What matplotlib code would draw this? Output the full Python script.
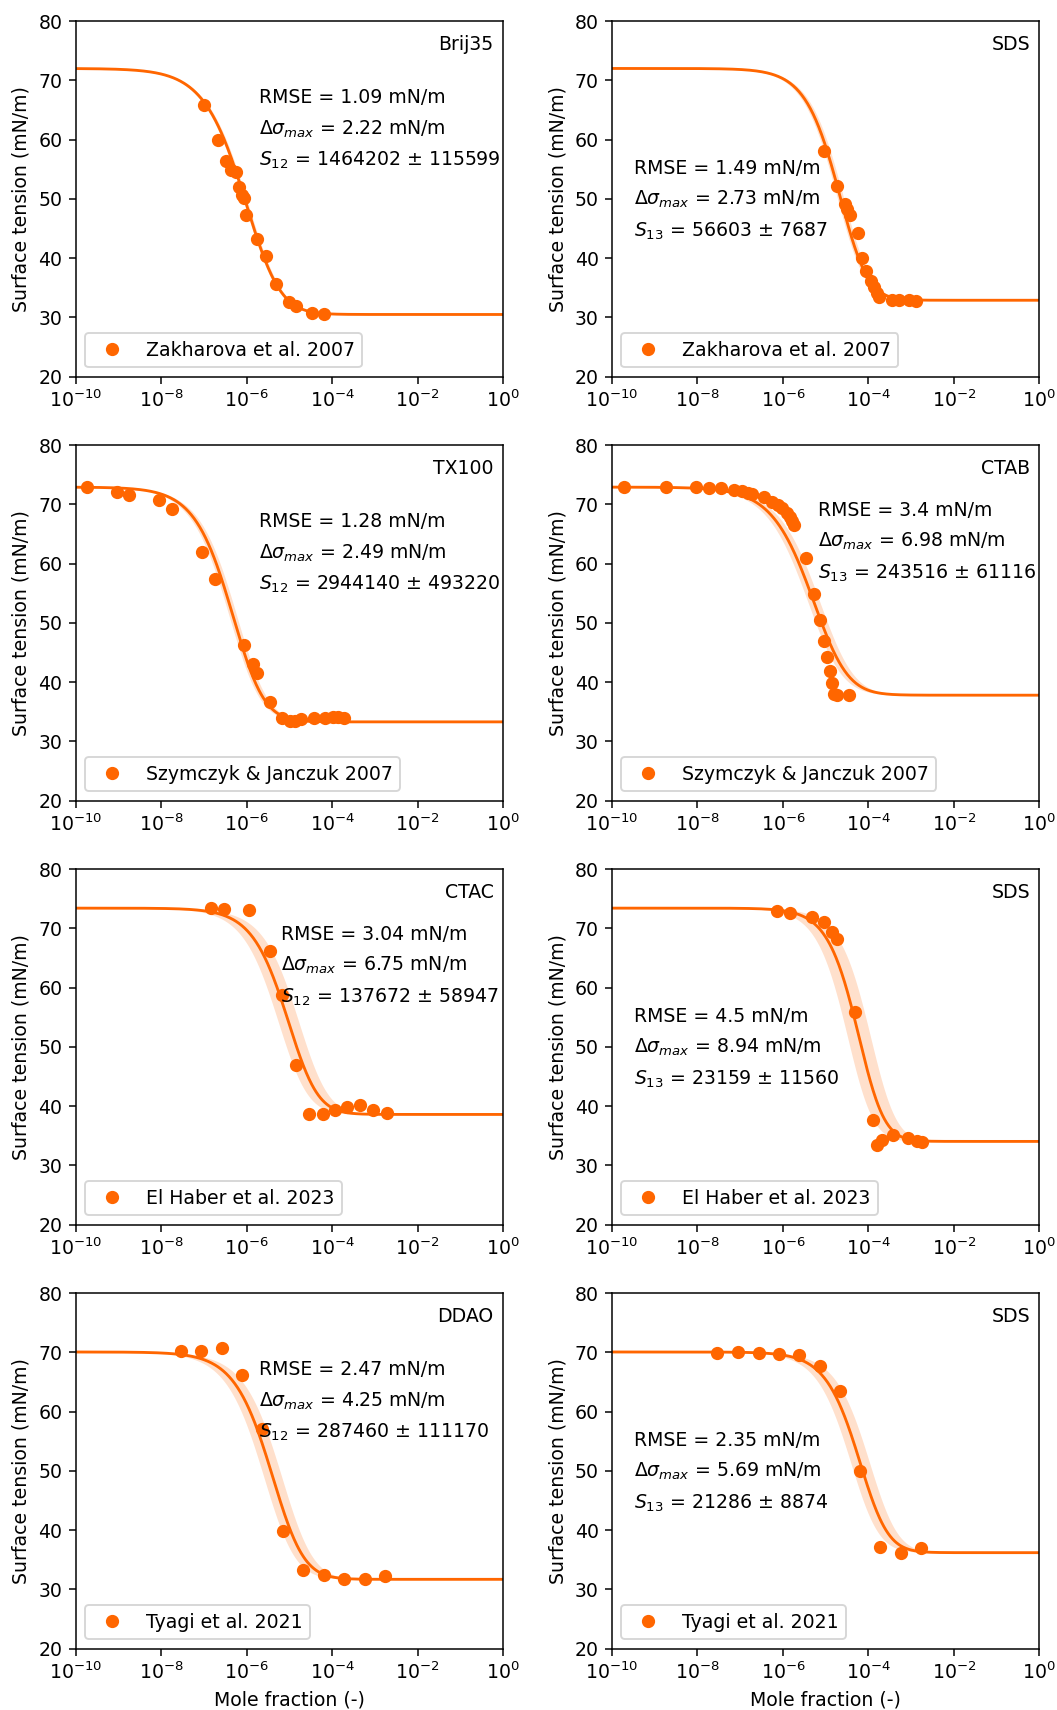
import numpy as np
import matplotlib.pyplot as plt
from matplotlib.ticker import NullLocator

# Surfactants, data sources and fit statistics
surfactants = ["Brij35", "SDS", "TX100", "CTAB", "CTAC", "SDS", "DDAO", "SDS"]
sources = ["Zakharova et al. 2007", "Zakharova et al. 2007",
           "Szymczyk & Janczuk 2007", "Szymczyk & Janczuk 2007",
           "El Haber et al. 2023", "El Haber et al. 2023",
           "Tyagi et al. 2021", "Tyagi et al. 2021"]
rmse = ["1.09", "1.49", "1.28", "3.4", "3.04", "4.5", "2.47", "2.35"]
dsigma_max = ["2.22", "2.73", "2.49", "6.98", "6.75", "8.94", "4.25", "5.69"]
s_index = ["12", "13", "12", "13", "12", "13", "12", "13"]
s_value = ["1464202", "56603", "2944140", "243516", "137672", "23159", "287460", "21286"]
s_error = ["115599", "7687", "493220", "61116", "58947", "11560", "111170", "8874"]

# Measured surface tension (mN/m) vs mole fraction
x_brij35 = [1.02e-7, 2.09e-7, 3.24e-7, 4.37e-7, 5.62e-7, 6.61e-7, 7.76e-7, 8.91e-7,
            9.55e-7, 1.78e-6, 2.82e-6, 4.90e-6, 9.77e-6, 1.45e-5, 3.39e-5, 6.31e-5]
y_brij35 = [65.8, 59.9, 56.4, 54.9, 54.5, 52.0, 50.6, 50.1,
            47.2, 43.3, 40.3, 35.6, 32.6, 31.9, 30.8, 30.5]

x_sds_z = [9.1e-6, 1.82e-5, 2.88e-5, 3.24e-5, 3.72e-5, 5.62e-5, 7.24e-5, 8.91e-5,
           1.12e-4, 1.32e-4, 1.58e-4, 1.78e-4, 3.55e-4, 5.25e-4, 8.71e-4, 1.29e-3]
y_sds_z = [58.1, 52.2, 49.1, 48.3, 47.2, 44.2, 40.1, 37.9,
           36.2, 35.2, 34.2, 33.5, 33.0, 33.0, 33.0, 32.8]

x_tx100 = [1.8e-10, 9.1e-10, 1.78e-9, 8.9e-9, 1.78e-8, 8.9e-8, 1.78e-7, 8.9e-7,
           1.41e-6, 1.78e-6, 3.55e-6, 6.9e-6, 1.05e-5, 1.38e-5, 1.86e-5, 3.7e-5,
           6.9e-5, 1.07e-4, 1.41e-4, 1.86e-4]
y_tx100 = [72.9, 72.1, 71.5, 70.7, 69.2, 62.0, 57.4, 46.2,
           43.0, 41.5, 36.7, 34.0, 33.4, 33.5, 33.8, 34.0,
           33.9, 34.2, 34.2, 33.9]

x_ctab = [1.86e-10, 1.82e-9, 9.1e-9, 1.82e-8, 3.55e-8, 7.2e-8, 1.1e-7, 1.51e-7,
          1.86e-7, 3.7e-7, 5.5e-7, 7.6e-7, 9.5e-7, 1.23e-6, 1.48e-6, 1.66e-6,
          1.82e-6, 3.55e-6, 5.4e-6, 7.2e-6, 8.9e-6, 1.07e-5, 1.29e-5, 1.41e-5,
          1.58e-5, 1.82e-5, 3.55e-5]
y_ctab = [72.9, 72.9, 72.9, 72.8, 72.7, 72.4, 72.3, 71.9,
          71.7, 71.2, 70.4, 69.9, 69.4, 68.6, 67.9, 67.1,
          66.5, 60.9, 54.8, 50.4, 47.0, 44.3, 41.9, 39.8,
          38.0, 37.8, 37.8]

x_ctac = [1.48e-7, 2.88e-7, 1.15e-6, 3.47e-6, 6.9e-6, 1.45e-5, 2.95e-5, 6.0e-5,
          1.15e-4, 2.29e-4, 4.6e-4, 9.3e-4, 1.9e-3]
y_ctac = [73.5, 73.3, 73.1, 66.2, 58.7, 47.0, 38.7, 38.7,
          39.3, 39.8, 40.2, 39.3, 38.8]

x_sds_e = [7.2e-7, 1.48e-6, 4.8e-6, 9.1e-6, 1.38e-5, 1.82e-5, 4.9e-5, 1.26e-4,
           1.58e-4, 2.04e-4, 3.7e-4, 8.3e-4, 1.35e-3, 1.82e-3]
y_sds_e = [73.0, 72.5, 71.9, 71.1, 69.4, 68.2, 55.8, 37.6,
           33.5, 34.3, 35.2, 34.7, 34.2, 34.0]

x_ddao = [2.9e-8, 8.7e-8, 2.63e-7, 7.8e-7, 2.29e-6, 7.1e-6, 2.14e-5, 6.6e-5,
          1.91e-4, 5.75e-4, 1.74e-3]
y_ddao = [70.3, 70.3, 70.8, 66.2, 57.0, 39.8, 33.3, 32.4, 31.7, 31.7, 32.2]

x_sds_t = [2.9e-8, 8.9e-8, 2.69e-7, 7.9e-7, 2.4e-6, 7.2e-6, 2.19e-5, 6.5e-5,
           1.91e-4, 5.75e-4, 1.74e-3]
y_sds_t = [69.9, 70.0, 69.9, 69.7, 69.5, 67.7, 63.5, 50.0, 37.1, 36.2, 37.0]

x_data = [x_brij35, x_sds_z, x_tx100, x_ctab, x_ctac, x_sds_e, x_ddao, x_sds_t]
y_data = [y_brij35, y_sds_z, y_tx100, y_ctab, y_ctac, y_sds_e, y_ddao, y_sds_t]

# Fitted isotherm: plateaus, mid point (log10 x), steepness,
# and half width of the uncertainty band (decades)
sigma_hi = [72.0, 72.0, 72.9, 72.9, 73.4, 73.4, 70.05, 70.05]
sigma_lo = [30.5, 32.9, 33.3, 37.8, 38.6, 34.05, 31.7, 36.2]
log_mid = [-6.10, -4.74, -6.40, -5.37, -5.10, -4.29, -5.47, -4.27]
steep = [0.82, 1.0, 0.9, 0.82, 0.95, 1.1, 0.9, 1.0]
band = [0.045, 0.075, 0.09, 0.14, 0.24, 0.27, 0.21, 0.22]

color = "#ff6600"

# text placement per panel (axes fraction): x, first baseline
text_pos = [(0.43, 0.7685), (0.052, 0.570), (0.43, 0.7685), (0.482, 0.800),
            (0.481, 0.800), (0.052, 0.570), (0.43, 0.7685), (0.052, 0.570)]


def isotherm(logx, hi, lo, mid, b):
    lc = mid + 0.383 / b
    f = (1.0 + 10.0 ** (b * (logx - lc))) ** -2.0
    return lo + (hi - lo) * f


dpi = 136
fig, axs = plt.subplots(4, 2, figsize=(1057 / dpi, 1710 / dpi), dpi=dpi)
fig.subplots_adjust(left=0.0716, right=0.9833, top=0.9877, bottom=0.03585,
                    wspace=0.255, hspace=0.192)
axs = axs.flatten()

logx = np.linspace(-10, 0, 600)
xx = 10.0 ** logx

for i, ax in enumerate(axs):
    y_fit = isotherm(logx, sigma_hi[i], sigma_lo[i], log_mid[i], steep[i])
    y_left = isotherm(logx, sigma_hi[i], sigma_lo[i], log_mid[i] - band[i], steep[i])
    y_right = isotherm(logx, sigma_hi[i], sigma_lo[i], log_mid[i] + band[i], steep[i])

    ax.fill_between(xx, y_left, y_right, color=color, alpha=0.2, lw=0)
    ax.plot(xx, y_fit, color=color, lw=1.5)
    ax.plot(x_data[i], y_data[i], 'o', color=color, label=sources[i])

    ax.set_xscale('log')
    ax.set_xlim(1e-10, 1)
    ax.set_ylim(20, 80)
    ax.set_xticks([1e-10, 1e-8, 1e-6, 1e-4, 1e-2, 1])
    ax.xaxis.set_minor_locator(NullLocator())
    ax.set_ylabel("Surface tension (mN/m)")
    if i >= 6:
        ax.set_xlabel("Mole fraction (-)")

    ax.text(0.978, 0.96, surfactants[i], transform=ax.transAxes, ha='right', va='top')
    tx, ty = text_pos[i]
    ax.text(tx, ty, "RMSE = " + rmse[i] + " mN/m", transform=ax.transAxes, va='baseline')
    ax.text(tx, ty - 0.087, r"$\Delta\sigma_{max}$ = " + dsigma_max[i] + " mN/m",
            transform=ax.transAxes, va='baseline')
    ax.text(tx, ty - 0.176, "$S_{" + s_index[i] + "}$ = " + s_value[i] + " ± " + s_error[i],
            transform=ax.transAxes, va='baseline')

    ax.legend(loc='lower left')

fig.savefig("out.png", dpi=dpi)
